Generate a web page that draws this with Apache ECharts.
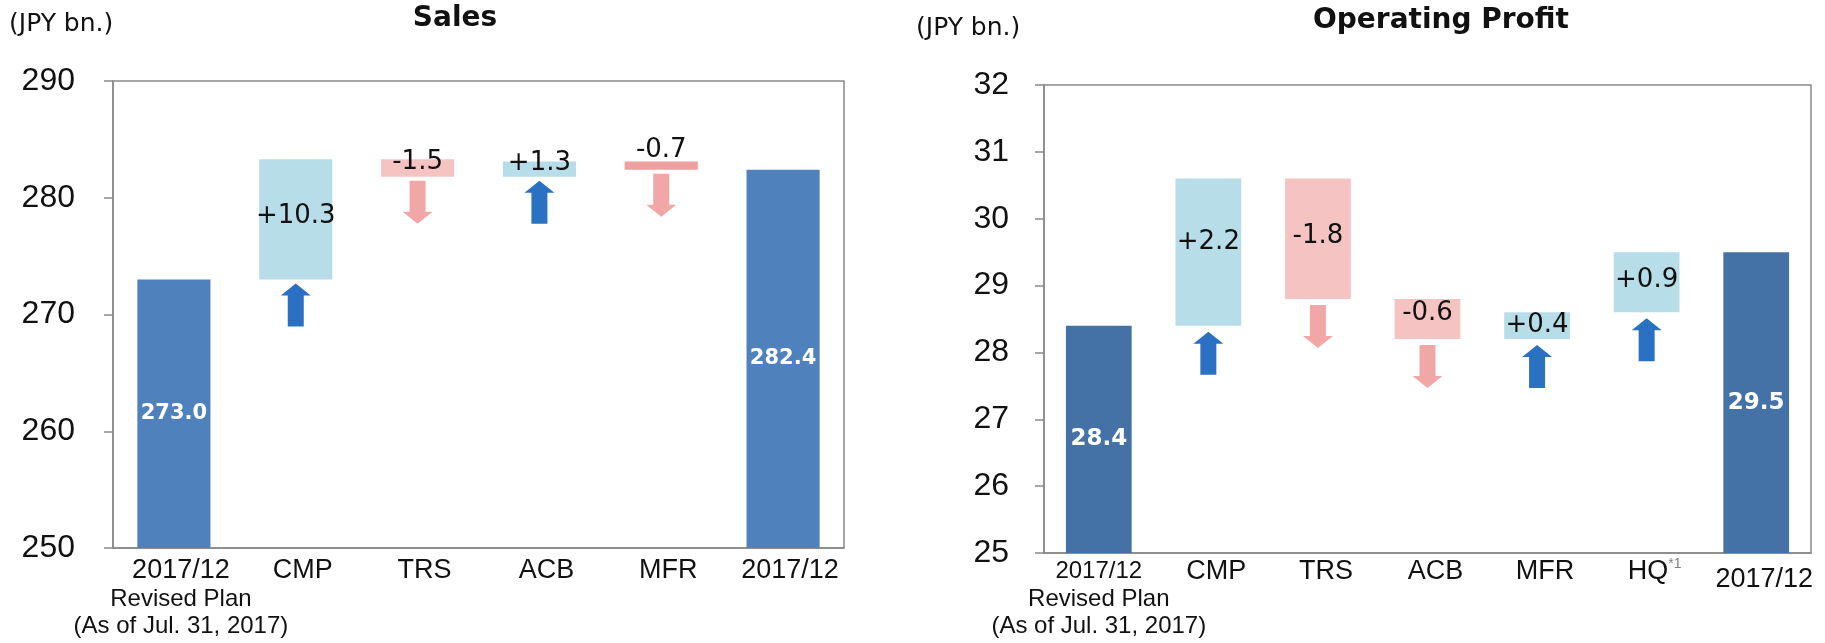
<!DOCTYPE html>
<html>
<head>
<meta charset="utf-8">
<script src="https://cdn.jsdelivr.net/npm/echarts@6/dist/echarts.min.js"></script>
<style>
  html, body { margin: 0; padding: 0; background: #fff; }
  #chart { width: 1825px; height: 643px; }
</style>
</head>
<body>
<div id="chart"></div>
<script>
// Sales (JPY bn.)
const salesCategories = ['2017/12\nRevised Plan\n(As of Jul. 31, 2017)', 'CMP', 'TRS', 'ACB', 'MFR', '2017/12'];
const salesStart = 273.0;
const salesDeltas = [10.3, -1.5, 1.3, -0.7];
const salesEnd = 282.4;
const salesTicks = [250, 260, 270, 280, 290];

// Operating Profit (JPY bn.)
const profitCategories = ['2017/12\nRevised Plan\n(As of Jul. 31, 2017)', 'CMP', 'TRS', 'ACB', 'MFR', 'HQ*1', '2017/12'];
const profitStart = 28.4;
const profitDeltas = [2.2, -1.8, -0.6, 0.4, 0.9];
const profitEnd = 29.5;
const profitTicks = [25, 26, 27, 28, 29, 30, 31, 32];

// label nudges for the change boxes (px, up is negative)
const salesLabelDy = [-3, -6, -6, -15];
const profitLabelDy = [-10, -3, -6, 0, -2];

const UP = '#b7dde8', DOWN = '#f6c3c3';

function buildSteps(start, deltas, end, axisMin) {
  const rects = [[0, axisMin, start, 0, start]];
  const arrows = [];
  let level = start;
  deltas.forEach((d, i) => {
    const next = Math.round((level + d) * 10) / 10;
    const lo = Math.min(level, next), hi = Math.max(level, next);
    rects.push([i + 1, lo, hi, d > 0 ? 1 : -1, d]);
    arrows.push([i + 1, lo, d > 0 ? 1 : -1]);
    level = next;
  });
  rects.push([deltas.length + 1, axisMin, end, 0, end]);
  return { rects, arrows };
}

function rectRender(cfg) {
  return function (params, api) {
    const idx = api.value(0), lo = api.value(1), hi = api.value(2);
    const kind = api.value(3), v = api.value(4);
    const top = api.coord([idx, hi]);
    const bot = api.coord([idx, lo]);
    const w = api.size([1, 0])[0] * 0.6;
    let fill = kind === 0 ? cfg.total : (kind > 0 ? UP : DOWN);
    if (cfg.override && cfg.override[idx]) fill = cfg.override[idx];
    const text = kind === 0 ? v.toFixed(1) : (v > 0 ? '+' : '') + v.toFixed(1);
    const dy = kind === 0 ? 0 : cfg.labelDy[idx - 1];
    return {
      type: 'rect',
      shape: { x: top[0] - w / 2, y: top[1], width: w, height: bot[1] - top[1] },
      style: { fill: fill },
      textContent: {
        style: kind === 0
          ? { text: text, fill: '#fff', font: 'bold ' + cfg.totalFont + 'px "DejaVu Sans"' }
          : { text: text, fill: '#111', font: '26px "DejaVu Sans"' }
      },
      textConfig: { position: 'inside', offset: [0, dy] }
    };
  };
}

function arrowRender(gap) {
  return function (params, api) {
    const idx = api.value(0), y0 = api.value(1), dir = api.value(2);
    const p = api.coord([idx, y0]);
    const cx = p[0], t = p[1] + gap, len = 43, sw = 16, hw = 30, hh = 12;
    let pts;
    if (dir > 0) {
      pts = [[cx, t], [cx + hw / 2, t + hh], [cx + sw / 2, t + hh], [cx + sw / 2, t + len],
             [cx - sw / 2, t + len], [cx - sw / 2, t + hh], [cx - hw / 2, t + hh]];
    } else {
      const b = t + len;
      pts = [[cx, b], [cx + hw / 2, b - hh], [cx + sw / 2, b - hh], [cx + sw / 2, t],
             [cx - sw / 2, t], [cx - sw / 2, b - hh], [cx - hw / 2, b - hh]];
    }
    return { type: 'polygon', shape: { points: pts }, style: { fill: dir > 0 ? '#2a71c3' : '#f2a7a7' } };
  };
}

const sales = buildSteps(salesStart, salesDeltas, salesEnd, salesTicks[0]);
const profit = buildSteps(profitStart, profitDeltas, profitEnd, profitTicks[0]);

const AXIS_GRAY = '#898989';
const FONT = '"Liberation Sans", Arial, sans-serif';

function catRich() {
  return {
    main: { fontFamily: FONT, fontSize: 27, color: '#111', lineHeight: 30 },
    pad: { fontFamily: FONT, fontSize: 27, color: '#111', lineHeight: 30, padding: [0, 0, 0, 16] },
    sub: { fontFamily: FONT, fontSize: 24, color: '#111', lineHeight: 27 },
    first: { fontFamily: FONT, fontSize: 24, color: '#111', lineHeight: 29 },
    sup: { fontFamily: FONT, fontSize: 14, color: '#808080', lineHeight: 30, verticalAlign: 'top' },
    low: { fontFamily: FONT, fontSize: 27, color: '#111', lineHeight: 30, padding: [16, 0, 0, 16] }
  };
}

function salesLabel(value, index) {
  const lines = value.split('\n');
  return lines.map((l, i) => i === 0 ? '{main|' + l + '}' : '{sub|' + l + '}').join('\n');
}

function profitLabel(value, index) {
  const lines = value.split('\n');
  if (index === 0) {
    return lines.map((l, i) => i === 0 ? '{first|' + l + '}' : '{sub|' + l + '}').join('\n');
  }
  if (index === profitCategories.length - 1) return '{low|' + value + '}';
  const m = value.match(/^(.*)\*(\d)$/);
  if (m) return '{pad|' + m[1] + '}{sup|*' + m[2] + '}';
  return '{pad|' + value + '}';
}

function yAxisOf(gridIndex, ticks, margin) {
  return {
    type: 'value',
    gridIndex: gridIndex,
    min: ticks[0],
    max: ticks[ticks.length - 1],
    interval: ticks[1] - ticks[0],
    axisLine: { show: true, lineStyle: { color: AXIS_GRAY, width: 1.5 } },
    axisTick: { show: true, length: 9, lineStyle: { color: AXIS_GRAY, width: 1.5 } },
    splitLine: { show: false },
    axisLabel: { fontFamily: FONT, fontSize: 32, color: '#111', margin: margin }
  };
}

const chart = echarts.init(document.getElementById('chart'));

const option = {
  animation: false,
  grid: [
    { left: 113, right: 981, top: 81, bottom: 95, show: true, borderColor: AXIS_GRAY, borderWidth: 1.5 },
    { left: 1044, right: 14, top: 85, bottom: 90, show: true, borderColor: AXIS_GRAY, borderWidth: 1.5 }
  ],
  graphic: [
    { type: 'text', x: 455, y: 19, style: { text: 'Sales', font: 'bold 28px "DejaVu Sans"', fill: '#111', align: 'center', verticalAlign: 'middle' } },
    { type: 'text', x: 1441, y: 21, style: { text: 'Operating Profit', font: 'bold 28px "DejaVu Sans"', fill: '#111', align: 'center', verticalAlign: 'middle' } },
    { type: 'text', x: 9, y: 24, style: { text: '(JPY bn.)', font: '25px "DejaVu Sans"', fill: '#111', align: 'left', verticalAlign: 'middle' } },
    { type: 'text', x: 916, y: 28, style: { text: '(JPY bn.)', font: '25px "DejaVu Sans"', fill: '#111', align: 'left', verticalAlign: 'middle' } }
  ],
  xAxis: [
    {
      type: 'category', gridIndex: 0, data: salesCategories,
      axisLine: { lineStyle: { color: AXIS_GRAY, width: 1.5 } },
      axisTick: { show: false },
      axisLabel: { interval: 0, margin: 8, padding: [0, 0, 0, 14], formatter: salesLabel, rich: catRich() }
    },
    {
      type: 'category', gridIndex: 1, data: profitCategories,
      axisLine: { lineStyle: { color: AXIS_GRAY, width: 1.5 } },
      axisTick: { show: false },
      axisLabel: { interval: 0, margin: 4, formatter: profitLabel, rich: catRich() }
    }
  ],
  yAxis: [yAxisOf(0, salesTicks, 38), yAxisOf(1, profitTicks, 35)],
  series: [
    {
      type: 'custom', name: 'Sales', xAxisIndex: 0, yAxisIndex: 0,
      renderItem: rectRender({ total: '#4f81bd', totalFont: 21, labelDy: salesLabelDy, override: { 4: '#ee9f9f' } }),
      encode: { x: 0, y: [1, 2] },
      data: sales.rects
    },
    {
      type: 'custom', name: 'Sales arrows', xAxisIndex: 0, yAxisIndex: 0,
      renderItem: arrowRender(4),
      encode: { x: 0, y: 1 },
      data: sales.arrows
    },
    {
      type: 'custom', name: 'Operating Profit', xAxisIndex: 1, yAxisIndex: 1,
      renderItem: rectRender({ total: '#4472a7', totalFont: 23, labelDy: profitLabelDy }),
      encode: { x: 0, y: [1, 2] },
      data: profit.rects
    },
    {
      type: 'custom', name: 'Profit arrows', xAxisIndex: 1, yAxisIndex: 1,
      renderItem: arrowRender(6),
      encode: { x: 0, y: 1 },
      data: profit.arrows
    }
  ]
};

chart.setOption(option);
</script>
</body>
</html>
